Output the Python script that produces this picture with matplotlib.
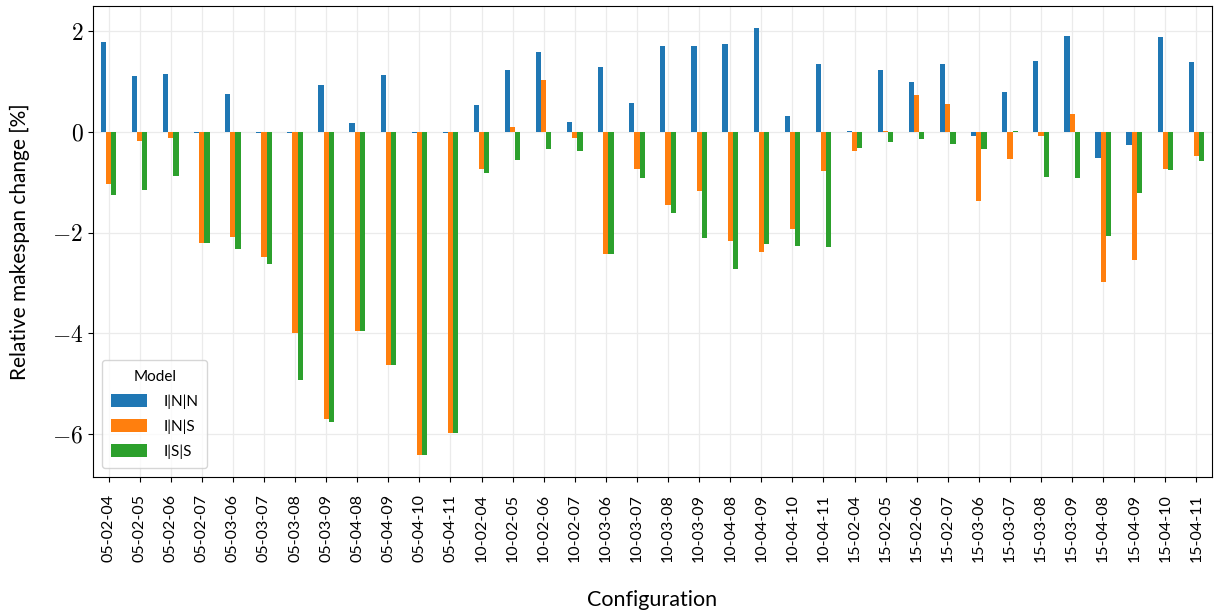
import matplotlib
matplotlib.use("Agg")
import matplotlib.pyplot as plt
import numpy as np
from matplotlib.ticker import FuncFormatter

configs = [
    "05-02-04", "05-02-05", "05-02-06", "05-02-07", "05-03-06", "05-03-07",
    "05-03-08", "05-03-09", "05-04-08", "05-04-09", "05-04-10", "05-04-11",
    "10-02-04", "10-02-05", "10-02-06", "10-02-07", "10-03-06", "10-03-07",
    "10-03-08", "10-03-09", "10-04-08", "10-04-09", "10-04-10", "10-04-11",
    "15-02-04", "15-02-05", "15-02-06", "15-02-07", "15-03-06", "15-03-07",
    "15-03-08", "15-03-09", "15-04-08", "15-04-09", "15-04-10", "15-04-11",
]
inn = [1.79, 1.11, 1.15, -0.01, 0.755, -0.01, -0.01, 0.93, 0.18, 1.13, -0.01, -0.01,
       0.54, 1.23, 1.59, 0.20, 1.29, 0.58, 1.71, 1.71, 1.75, 2.07, 0.32, 1.35,
       0.02, 1.23, 0.99, 1.35, -0.07, 0.79, 1.41, 1.91, -0.51, -0.25, 1.89, 1.39]
ins = [-1.04, -0.17, -0.11, -2.20, -2.08, -2.48, -3.99, -5.70, -3.95, -4.62, -6.42, -5.97,
       -0.73, 0.10, 1.03, -0.11, -2.42, -0.73, -1.44, -1.17, -2.16, -2.38, -1.92, -0.77,
       -0.37, 0.02, 0.735, 0.56, -1.38, -0.53, -0.07, 0.36, -2.97, -2.54, -0.73, -0.47]
iss = [-1.245, -1.15, -0.87, -2.20, -2.32, -2.62, -4.92, -5.75, -3.95, -4.62, -6.42, -5.97,
       -0.81, -0.55, -0.33, -0.37, -2.42, -0.91, -1.60, -2.10, -2.72, -2.22, -2.26, -2.28,
       -0.31, -0.19, -0.13, -0.23, -0.33, 0.02, -0.89, -0.91, -2.06, -1.21, -0.75, -0.57]
models = ["I|N|N", "I|N|S", "I|S|S"]
colors = ["#1f77b4", "#ff7f0e", "#2ca02c"]

plt.rcParams["font.family"] = ["Lato", "DejaVu Sans"]
plt.rcParams["mathtext.fontset"] = "cm"

fig = plt.figure(figsize=(12.21, 6.13), dpi=100)
ax = fig.add_axes([0.0762, 0.222, 0.9164, 0.768])

x = np.arange(len(configs))
width = 0.5 / 3
for i, (vals, name) in enumerate(zip([inn, ins, iss], models)):
    ax.bar(x + (i - 1) * width, vals, width, color=colors[i], label=name, zorder=2)

ax.set_xlim(-0.5, len(configs) - 0.5)
ax.set_ylim(-6.85, 2.5)
ax.set_yticks([-6, -4, -2, 0, 2])
ax.yaxis.set_major_formatter(FuncFormatter(lambda v, p: f"${v:g}$"))
ax.tick_params(axis="y", labelsize=17)
ax.set_xticks(x)
ax.set_xticklabels(configs, rotation=90, fontsize=11.5)
ax.tick_params(axis="x", pad=9)
ax.grid(True, color="#ebebeb", linewidth=0.9, zorder=0)
ax.set_axisbelow(True)

ax.set_xlabel("Configuration", fontsize=15.5, labelpad=20)
ax.set_ylabel("Relative makespan change [%]", fontsize=15, labelpad=16)

leg = ax.legend(title="Model", loc="lower left", fontsize=11, title_fontsize=11,
                handlelength=2.3, handleheight=1.0, borderpad=0.6, labelspacing=0.65,
                handletextpad=1.1, bbox_to_anchor=(0.0, 0.0), borderaxespad=0.6)

fig.savefig("out.png", dpi=100)
plt.close(fig)
